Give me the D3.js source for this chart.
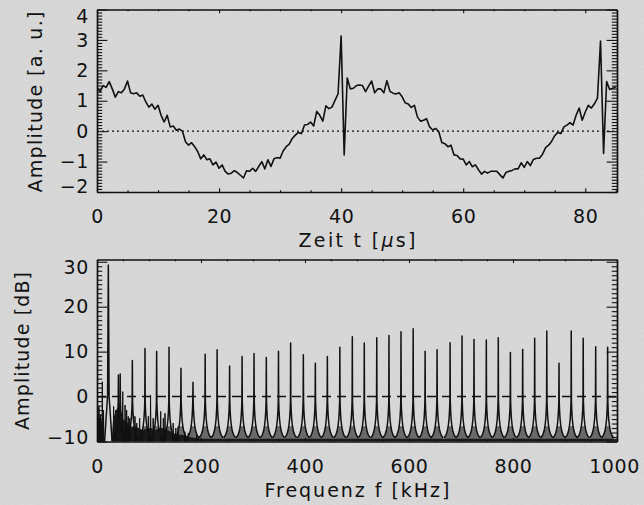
<!DOCTYPE html>
<html>
<head>
<meta charset="utf-8">
<script src="https://cdn.jsdelivr.net/npm/d3@7"></script>
<style>
  body { margin: 0; background: #d9d9d9; }
  svg text { font-family: "DejaVu Sans", sans-serif; fill: #111; }
</style>
</head>
<body>
<div id="chart"></div>
<script>
const sampleStep = 0.5;
const signal = [
  1.44, 1.30, 1.50, 1.44, 1.63, 1.39, 1.12, 1.30, 1.26, 1.39,
  1.65, 1.26, 1.23, 1.26, 1.15, 1.19, 0.96, 0.79, 0.89, 0.72,
  0.85, 0.52, 0.30, 0.52, 0.14, 0.17, 0.03, 0.07, 0.00, -0.35,
  -0.46, -0.38, -0.51, -0.67, -0.91, -0.78, -0.94, -0.91, -1.11, -1.02,
  -1.22, -1.11, -1.32, -1.41, -1.38, -1.30, -1.36, -1.45, -1.54, -1.30,
  -1.32, -1.22, -1.32, -1.16, -1.00, -1.24, -0.94, -1.16, -0.91, -0.87,
  -0.89, -0.65, -0.51, -0.43, -0.24, -0.13, -0.04, -0.08, 0.20, 0.22,
  0.30, 0.17, 0.65, 0.52, 0.33, 0.83, 0.74, 0.79, 1.01, 1.23,
  3.13, -0.78, 1.75, 1.39, 1.41, 1.50, 1.52, 1.50, 1.30, 1.48,
  1.65, 1.26, 1.39, 1.39, 1.26, 1.66, 1.31, 1.25, 1.22, 1.26,
  1.13, 0.93, 0.89, 0.78, 0.85, 0.47, 0.33, 0.36, 0.41, 0.14,
  0.04, 0.09, -0.02, -0.37, -0.41, -0.51, -0.46, -0.78, -0.80, -0.91,
  -0.92, -1.11, -1.00, -1.17, -1.11, -1.27, -1.41, -1.32, -1.38, -1.32,
  -1.32, -1.32, -1.43, -1.54, -1.36, -1.32, -1.29, -1.24, -1.24, -1.04,
  -1.19, -1.00, -1.13, -0.93, -0.89, -0.89, -0.76, -0.54, -0.46, -0.33,
  -0.15, -0.04, -0.08, 0.14, 0.20, 0.28, 0.20, 0.52, 0.76, 0.36,
  0.63, 0.85, 0.76, 0.90, 1.09, 2.96, -0.73, 1.63, 1.37, 1.41,
  1.45
];
const timeTicks = [0, 20, 40, 60, 80];
const ampTicks = [-2, -1, 0, 1, 2, 3, 4];

// ---- bottom panel: spectrum ----
// harmonic lines (kHz, dB)
const peakFreq = [21.8, 41.2, 44.6, 68, 92.3, 114.7, 138.5, 161.5, 184.6, 208,
  231, 255, 279, 302, 325.6, 349, 372.4, 396.8, 419.9, 443,
  467, 491, 514, 538, 561.5, 584.6, 608, 631, 654, 679,
  702, 725, 748.7, 771.7, 795, 818.6, 841.7, 865, 888.5, 912,
  935, 959, 982];
const peakDb = [29.3, 4.8, 5.0, 8.0, 10.7, 10.0, 11.0, 6.3, 3.2, 9.4,
  10.4, 6.8, 8.9, 9.6, 8.7, 10.1, 11.9, 9.3, 7.4, 8.9,
  11.0, 13.3, 11.9, 13.1, 13.6, 14.4, 15.1, 10.1, 10.4, 12.0,
  13.5, 12.7, 12.6, 13.1, 9.8, 10.5, 13.0, 14.6, 7.4, 14.6,
  13.0, 11.1, 11.0];
// skirt around each harmonic: distance from line (kHz) -> level (dB)
const skirtOff = [0.4, 1, 2, 3.5, 5.5, 8, 11.7];
const skirtDb = [-1, -3, -5, -6.6, -7.8, -8.6, -9.2];
// skirt of the strong fundamental (drawn open, light inside)
const fundOff = [1.5, 3, 5, 7.2];
const fundDb = [0, -2.6, -6.1, -10];
// top of the dense noise band
const floorFreq = [0, 3, 6, 9, 12, 14, 28, 31, 35, 39, 46, 50, 55, 60, 65, 72, 80, 88, 96,
  104, 112, 120, 128, 136, 145, 155, 165, 175, 190, 205, 1000];
const floorDb = [-4.5, -3.5, -5, -5.5, -8, -10, -10, -5, -3.5, -2.5, -3, -5, -5.5, -6, -7, -6.5, -7, -7.5, -7,
  -7, -7.5, -7, -7, -7.5, -8, -8.5, -8.5, -9, -9.2, -9.4, -9.4];
// isolated noise spikes at low frequency
const clutterFreq = [2, 3.8, 7, 10.2, 12.5, 32, 36, 49.5, 54, 57, 60, 63, 73, 76.5, 82, 87,
  98.7, 103, 108, 122.5, 127.6, 130.8, 146.5, 151.6, 156, 169, 175.6, 191.7];
const clutterDb = [-2.5, -2.2, -4, 3.3, -3, -2.2, -3, 1.1, -1.9, -3, -4.4, -4.8, -4.4, -5.9, -4.8, -7.4,
  -4.4, 0.3, -4.8, -3.3, -4.8, -3.7, -5.9, -7, -6.7, -7.8, -8.1, -8.5];
const freqTicks = [0, 200, 400, 600, 800, 1000];
const dbTicks = [-10, 0, 10, 20, 30];

// ---- layout ----
const width = 644, height = 505;
const ink = '#111';
const panelT = {left: 97, right: 617, top: 9.5, bottom: 192};
const panelB = {left: 97, right: 617, top: 259.5, bottom: 441.5};

const svg = d3.create('svg').attr('width', width).attr('height', height);

// paper look
const defs = svg.append('defs');
const paper = defs.append('filter').attr('id', 'paper');
paper.append('feTurbulence').attr('type', 'fractalNoise').attr('baseFrequency', 0.7)
  .attr('numOctaves', 2).attr('seed', 4);
paper.append('feColorMatrix').attr('type', 'matrix')
  .attr('values', '0.33 0.33 0.33 0 0  0.33 0.33 0.33 0 0  0.33 0.33 0.33 0 0  0 0 0 0 0.13');
svg.append('rect').attr('width', width).attr('height', height).attr('fill', '#dbdbdb');
svg.append('rect').attr('width', width).attr('height', height).attr('filter', 'url(#paper)');

[['clipT', panelT], ['clipB', panelB]].forEach(([id, p]) => {
  defs.append('clipPath').attr('id', id).append('rect')
    .attr('x', p.left).attr('y', p.top)
    .attr('width', p.right - p.left).attr('height', p.bottom - p.top);
});

// scales
const xT = d3.scaleLinear().domain([0, 85.2]).range([panelT.left, panelT.right]);
const yT = d3.scaleLinear().domain([-2, 4]).range([panelT.bottom, panelT.top]);
const xB = d3.scaleLinear().domain([0, 1000]).range([panelB.left, panelB.right]);
const yB = d3.scaleLinear().domain([-10, 30.5]).range([panelB.bottom, panelB.top]);

// IDL-style frame: ticks on all four sides pointing inward
function frame(x, y, xMaj, xMin, yMaj, yMin, padX, padY) {
  const [l, r] = x.range(), [b, t] = y.range();
  const xLen = (b - t) * 0.02, yLen = (r - l) * 0.02;
  const g = svg.append('g');
  const fmt = d3.format('d');
  const sides = [
    [d3.axisBottom(x), `translate(0,${b})`, xMaj, xMin, xLen, true],
    [d3.axisTop(x), `translate(0,${t})`, xMaj, xMin, xLen, false],
    [d3.axisLeft(y), `translate(${l},0)`, yMaj, yMin, yLen, true],
    [d3.axisRight(y), `translate(${r},0)`, yMaj, yMin, yLen, false]
  ];
  sides.forEach(([ax, tr, maj, min, len, labels], i) => {
    const major = g.append('g').attr('transform', tr)
      .call(ax.tickValues(maj).tickSizeInner(-len).tickSizeOuter(0)
        .tickPadding(i < 2 ? padX : padY).tickFormat(labels ? fmt : ''));
    const minor = g.append('g').attr('transform', tr)
      .call(ax.tickValues(min).tickSizeInner(-len / 2).tickSizeOuter(0).tickFormat(''));
    minor.select('.domain').remove();
    g.selectAll('.domain').attr('stroke', ink).attr('stroke-width', 1.7);
    g.selectAll('.tick line').attr('stroke', ink).attr('stroke-width', 1.1);
    major.selectAll('text').attr('font-size', 19).attr('letter-spacing', 0.6)
      .attr('font-family', '"DejaVu Sans", sans-serif').attr('fill', ink);
  });
  return g;
}

// ---- top panel ----
const gT = frame(xT, yT, timeTicks, d3.range(0, 86, 5).filter(d => d % 20),
  ampTicks, d3.range(-20, 41).map(d => d / 10).filter(d => d % 1), 17.5, 8);
// end labels sit a little inside the frame
gT.selectAll('text').filter(d => d === 4).attr('dy', '0.7em');
gT.selectAll('text').filter(d => d === -2).attr('dy', '0.05em');

svg.append('line')
  .attr('x1', xT(0)).attr('x2', xT(85.2)).attr('y1', yT(0)).attr('y2', yT(0))
  .attr('stroke', ink).attr('stroke-width', 1.3).attr('stroke-dasharray', '2,3');

svg.append('path')
  .datum(signal)
  .attr('clip-path', 'url(#clipT)')
  .attr('fill', 'none').attr('stroke', ink).attr('stroke-width', 1.6)
  .attr('stroke-linejoin', 'round')
  .attr('d', d3.line().x((d, i) => xT(i * sampleStep)).y(d => yT(d)));

// ---- bottom panel ----
const gB = frame(xB, yB, freqTicks, d3.range(0, 1001, 50).filter(d => d % 200),
  dbTicks, d3.range(-10, 31).filter(d => d % 10), 18, 8);
gB.selectAll('text').filter(d => d === 30).attr('dy', '0.6em');
gB.selectAll('text').filter(d => d === -10).attr('dy', '0.1em');
gB.selectAll('text').filter(d => d === 1000).attr('dx', -3);

const spec = svg.append('g').attr('clip-path', 'url(#clipB)');

spec.append('line')
  .attr('x1', xB(0)).attr('x2', xB(1000)).attr('y1', yB(0)).attr('y2', yB(0))
  .attr('stroke', ink).attr('stroke-width', 1.4).attr('stroke-dasharray', '9,6');

// noise band
spec.append('path')
  .datum(floorFreq.map((f, i) => [f, floorDb[i]]))
  .attr('fill', ink).attr('fill-opacity', 0.9)
  .attr('d', d3.area().x(d => xB(d[0])).y0(yB(-10)).y1(d => yB(d[1])));

// clutter spikes
spec.selectAll('path.clutter')
  .data(clutterFreq.map((f, i) => [[f - 0.8, -10], [f, clutterDb[i]], [f + 0.8, -10]]))
  .join('path').attr('class', 'clutter')
  .attr('fill', ink).attr('stroke', ink).attr('stroke-width', 1)
  .attr('d', d3.line().x(d => xB(d[0])).y(d => yB(d[1])));

const lineF = d3.line().x(d => xB(d[0])).y(d => yB(d[1]));
const areaF = d3.area().x(d => xB(d[0])).y0(yB(-10)).y1(d => yB(d[1]));

peakFreq.forEach((f, k) => {
  const off = k === 0 ? fundOff : skirtOff;
  const lev = k === 0 ? fundDb : skirtDb;
  const left = off.map((o, j) => [f - o, lev[j]]).reverse();
  const right = off.map((o, j) => [f + o, lev[j]]);
  if (k > 0) {
    // dense noise sitting in the lower part of each skirt
    const low = d => d[1] <= -6.6;
    spec.append('path').datum(left.filter(low).concat(right.filter(low)))
      .attr('fill', ink).attr('fill-opacity', 0.55).attr('d', areaF);
  }
  spec.append('path').datum(left.concat([[f, peakDb[k]]], right))
    .attr('fill', 'none').attr('stroke', ink).attr('stroke-width', 1.5)
    .attr('stroke-linejoin', 'round').attr('d', lineF);
});

// ---- axis titles ----
function title(x, y, len, rotate) {
  return svg.append('text')
    .attr('transform', `translate(${x},${y})` + (rotate ? ' rotate(-90)' : ''))
    .attr('text-anchor', 'middle').attr('font-size', 19)
    .attr('textLength', len).attr('lengthAdjust', 'spacing');
}
const tx = title(357, 247, 117, false);
tx.append('tspan').text('Zeit t [');
tx.append('tspan').attr('font-style', 'italic').text('\u00b5');
tx.append('tspan').text('s]');
title(357, 497, 185, false).text('Frequenz f [kHz]');
title(42, 102, 181, true).text('Amplitude [a. u.]');
title(29, 351, 158, true).text('Amplitude [dB]');

document.getElementById('chart').appendChild(svg.node());
</script>
</body>
</html>
